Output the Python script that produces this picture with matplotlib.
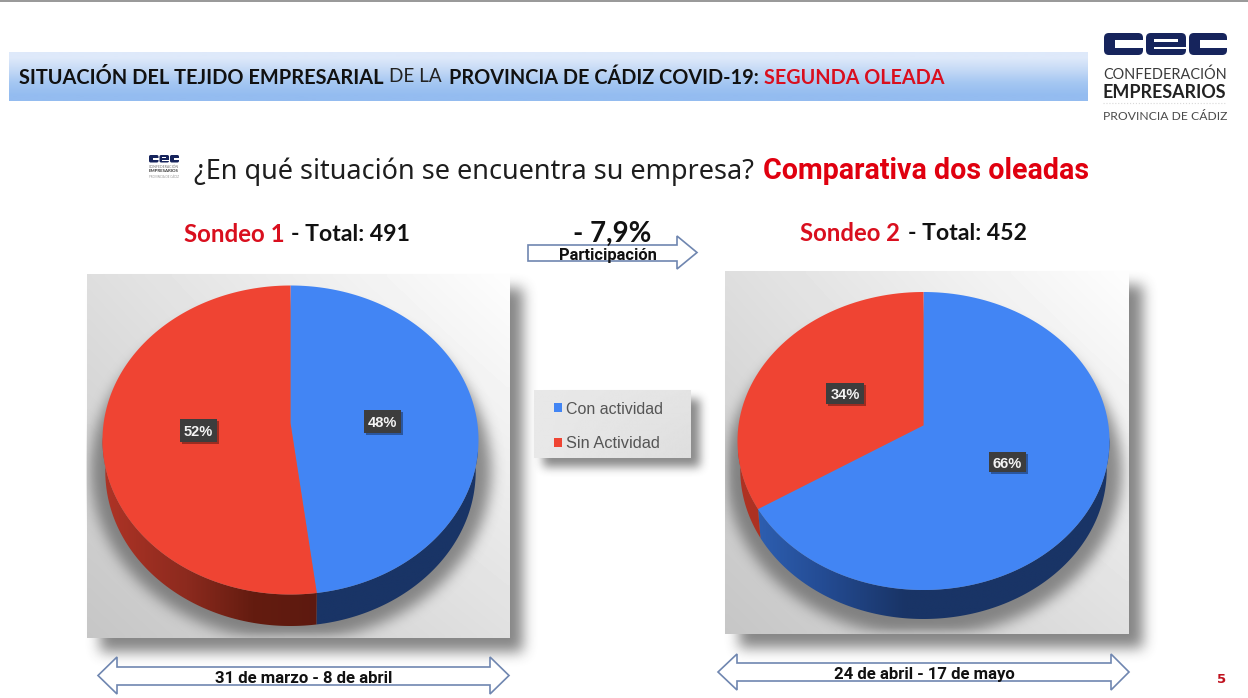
import numpy as np
import matplotlib
matplotlib.use("Agg")
import matplotlib.pyplot as plt
from matplotlib.patches import Rectangle, Polygon, FancyBboxPatch
from matplotlib.path import Path
from matplotlib.transforms import Transform, Affine2D

# ---------- data ----------
categories = ["Con actividad", "Sin Actividad"]
sondeo1_values = [48, 52]
sondeo2_values = [66, 34]
title_runs = ["SITUACIÓN DEL TEJIDO EMPRESARIAL", "DE LA", "PROVINCIA DE CÁDIZ COVID-19:", "SEGUNDA OLEADA"]
question = "¿En qué situación se encuentra su empresa?"
question_red = "Comparativa dos oleadas"
sondeo1_head = ["Sondeo 1", "- Total: 491"]
sondeo2_head = ["Sondeo 2", "- Total: 452"]
change_value = "- 7,9%"
change_label = "Participación"
period1 = "31 de marzo - 8 de abril"
period2 = "24 de abril - 17 de mayo"
page_number = "5"

# ---------- styles ----------
W, H = 1248, 698
BLUE, RED = "#4285F4", "#EF4433"
TXTRED = "#D90F1E"
EDGE = "#6F86B0"
SANS = "Lato"
TAHOMA = "Noto Sans"
TAHOMA_B = "Roboto"
ARIAL = "Liberation Sans"

fig = plt.figure(figsize=(W / 100, H / 100), dpi=100, facecolor="white")
ax = fig.add_axes([0, 0, 1, 1], zorder=0)
ax.set_xlim(0, W); ax.set_ylim(H, 0); ax.axis("off")
top = fig.add_axes([0, 0, 1, 1], zorder=5)
top.set_xlim(0, W); top.set_ylim(H, 0); top.axis("off"); top.patch.set_alpha(0)
renderer = fig.canvas.get_renderer()


def blur(a, r, n=3):
    k = np.ones(2 * r + 1) / (2 * r + 1)
    for _ in range(n):
        a = np.apply_along_axis(lambda m: np.convolve(m, k, mode="same"), 0, a)
        a = np.apply_along_axis(lambda m: np.convolve(m, k, mode="same"), 1, a)
    return a


def box_shadow(x0, y0, x1, y1, strength, r=6, dx=14, dy=14):
    sx0, sx1 = int(x0) - 40, int(x1) + 60
    sy0, sy1 = int(y0) - 40, int(y1) + 60
    a = np.zeros((sy1 - sy0, sx1 - sx0))
    a[int(y0) + dy - sy0:int(y1) + dy - sy0, int(x0) + dx - sx0:int(x1) + dx - sx0] = 1
    a = blur(a, r) * strength
    img = np.zeros(a.shape + (4,))
    img[..., :3] = 60 / 255
    img[..., 3] = a
    ax.imshow(img, extent=(sx0, sx1, sy1, sy0), aspect="auto", zorder=1)


def panel(x0, y0, x1, y1, corners, z=2):
    (tl, tr), (bl, br) = corners
    u = np.linspace(0, 1, 80)
    v = np.linspace(0, 1, 80)[:, None]
    g = (tl * (1 - u) + tr * u) * (1 - v) + (bl * (1 - u) + br * u) * v
    ax.imshow(g / 255, cmap="gray", vmin=0, vmax=1, extent=(x0, x1, y1, y0),
              aspect="auto", zorder=z, interpolation="bilinear")


def fit(target, x0, x1, y, s, color="black", weight="normal", family=SANS, size=None):
    t = target.text(x0, y, s, color=color, fontweight=weight, family=family,
                    fontsize=12, ha="left", va="center_baseline", zorder=8)
    if size is None:
        w = t.get_window_extent(renderer).width
        t.set_fontsize(12 * (x1 - x0) / w)
    else:
        t.set_fontsize(size)
    return t


class Persp(Transform):
    """Homography that keeps the unit circle and moves the centre up, as in a tilted pie."""
    input_dims = output_dims = 2
    is_affine = False
    has_inverse = False

    def __init__(self, a):
        super().__init__()
        self.a = a

    def transform_non_affine(self, v):
        v = np.asarray(v, float)
        d = 1 + self.a * v[:, 1]
        return np.column_stack((v[:, 0] * np.sqrt(1 - self.a ** 2) / d, (v[:, 1] + self.a) / d))

    def transform_path_non_affine(self, path):
        p = path.transformed(Affine2D().scale(1000))
        poly = np.vstack(p.to_polygons(closed_only=True)) / 1000
        return Path(self.transform_non_affine(poly), closed=True)


def pie3d(values, cx, cy, rx, ry, depth, a, wall_stops):
    pax = fig.add_axes([(cx - 1.2 * rx) / W, 1 - (cy + 1.5 * ry) / H, 2.4 * rx / W, 2.7 * ry / H], zorder=3)
    wedges, _ = pax.pie(values, colors=[BLUE, RED], startangle=90, counterclock=False,
                        radius=1, wedgeprops=dict(linewidth=0, zorder=4))
    pr = Persp(a)
    d = depth / ry
    for w, stops in zip(wedges, wall_stops):
        w.set_transform(pr + pax.transData)
        th = np.radians(np.linspace(w.theta1, w.theta2, 300))
        pts = pr.transform_non_affine(np.column_stack((np.cos(th), np.sin(th))))
        pts = pts[pts[:, 1] <= 0.03]
        if len(pts) < 2:
            continue
        low = pts[::-1] * [0.985, 1] - [0, d]
        poly = Polygon(np.vstack((pts, low)), closed=True, transform=pax.transData, fc="none", ec="none")
        pax.add_patch(poly)
        xs = np.linspace(-1, 1, 300)
        pos, cols = zip(*stops)
        cols = np.array(cols) / 255
        grad = np.stack([np.interp(xs, pos, cols[:, i]) for i in range(3)], axis=-1)[None, :, :]
        im = pax.imshow(grad, extent=(-1, 1, -1.5, 0.1), aspect="auto", zorder=2, interpolation="bilinear")
        im.set_clip_path(poly)
    pax.set_aspect("auto")
    pax.set_xlim(-1.2, 1.2)
    pax.set_ylim(-1.5, 1.2)
    pax.axis("off")
    pax.patch.set_alpha(0)
    return pax


def pie_shadow(x0, y0, x1, y1, cx, cy, rx, ry):
    yy, xx = np.mgrid[int(y0):int(y1), int(x0):int(x1)]
    m = (((xx - cx) / (rx + 12)) ** 2 + ((yy - cy - 30) / (ry + 16)) ** 2 <= 1).astype(float)
    a = blur(m, 6) * 0.7
    img = np.zeros(a.shape + (4,))
    img[..., :3] = 95 / 255
    img[..., 3] = a
    ax.imshow(img, extent=(int(x0), int(x1), int(y1), int(y0)), aspect="auto", zorder=3)


def label(cx, cy, w, h, s):
    top.add_patch(Rectangle((cx - w / 2 + 2, cy - h / 2 + 2), w, h, fc="black", alpha=0.35, ec="none", zorder=6))
    top.add_patch(Rectangle((cx - w / 2, cy - h / 2), w, h, fc="#3D3D3D", ec="none", zorder=7))
    top.text(cx, cy, s, color="#F4F4F4", fontweight="bold", family=ARIAL, fontsize=10.5,
             ha="center", va="center_baseline", zorder=8)


def arrow(points, z=6):
    top.add_patch(Polygon(points, closed=True, fc="white", ec=EDGE, lw=1.2, zorder=z))


def logo_c(target, x0, x1, y0, y1, col, kind="c"):
    h = y1 - y0
    w = x1 - x0
    pad = h * 0.22
    target.add_patch(FancyBboxPatch((x0 + pad, y0 + pad), w - 2 * pad, h - 2 * pad,
                                    boxstyle=f"round,pad={pad},rounding_size={pad}", fc=col, ec="none", zorder=7))
    if kind == "c":
        tx = h * 0.5
        ty = h * 0.34
        target.add_patch(Rectangle((x0 + tx, y0 + ty), w - tx + 0.5, h - 2 * ty, fc="white", ec="none", zorder=7.5))
    else:
        tx = h * 0.36
        target.add_patch(Rectangle((x0 + tx, y0 + h * 0.27), w - 2 * tx, h * 0.14, fc="white", ec="none", zorder=7.5))
        target.add_patch(Rectangle((x0 + tx, y0 + h * 0.62), w - tx + 0.5, h * 0.13, fc="white", ec="none", zorder=7.5))


# ---------- page furniture ----------
ax.add_patch(Rectangle((0, 0), W, 2, fc="#9A9A9A", ec="none", zorder=1))

band = np.array([[222, 233, 250], [196, 217, 246], [165, 199, 242], [148, 188, 240]]) / 255
ax.imshow(band[:, None, :], extent=(9, 1088, 101, 52), aspect="auto", zorder=1, interpolation="bilinear")
fit(top, 19, 383, 75.5, title_runs[0], weight="bold", color="#111111")
fit(top, 389, 443, 75.5, title_runs[1], color="#222222", size=13.6)
fit(top, 449, 758, 75.5, title_runs[2], weight="bold", color="#111111")
fit(top, 764, 944, 75.5, title_runs[3], weight="bold", color=TXTRED)

# logo
NAVY = "#16245C"
logo_c(top, 1104, 1143, 33, 55, NAVY, "c")
logo_c(top, 1146, 1186, 33, 55, NAVY, "e")
logo_c(top, 1189, 1227, 33, 55, NAVY, "c")
fit(top, 1103, 1226, 73.5, "CONFEDERACIÓN", color="#3A3A3A")
fit(top, 1103, 1226, 91, "EMPRESARIOS", color="#222222", weight="bold")
fit(top, 1103, 1226, 115.5, "PROVINCIA DE CÁDIZ", color="#4A4A4A")
top.plot([1103, 1226], [103, 103], color="#D8D8D8", lw=0.8, ls=":", zorder=7)

# small logo
logo_c(top, 149, 158.5, 155, 162.5, NAVY, "c")
logo_c(top, 159.5, 169, 155, 162.5, NAVY, "e")
logo_c(top, 170, 179, 155, 162.5, NAVY, "c")
fit(top, 149, 179, 166, "CONFEDERACIÓN", color="#777777")
fit(top, 149, 179, 170.5, "EMPRESARIOS", color="#333333", weight="bold")
fit(top, 149, 179, 176, "PROVINCIA DE CÁDIZ", color="#999999")

fit(top, 194, 754, 168, question, family=TAHOMA, color="#1E1E1E")
fit(top, 763, 1087, 168, question_red, family=TAHOMA_B, weight="bold", color="#E0000F")

fit(top, 184, 284, 232.5, sondeo1_head[0], weight="bold", color=TXTRED)
fit(top, 291, 409, 232.5, sondeo1_head[1], weight="bold", color="#111111")
fit(top, 800.5, 900, 231.5, sondeo2_head[0], weight="bold", color=TXTRED)
fit(top, 908, 1026, 231.5, sondeo2_head[1], weight="bold", color="#111111")

# ---------- panels ----------
P1 = (86.5, 274, 509, 638)
P2 = (725, 271, 1129, 634)
C1 = (290.5, 440, 188, 154.5, 31.5, 0.11)
C2 = (923.5, 441, 186, 149, 29, 0.105)
box_shadow(*P1, 0.62)
box_shadow(*P2, 0.62)
grad1 = ((222, 253), (198, 224))
panel(*P1, grad1)
panel(*P2, grad1)
pie_shadow(*P1, *C1[:4])
pie_shadow(*P2, *C2[:4])

NAVYW = (25, 52, 102)
wall1 = [
    [(-1, (25, 52, 102)), (1, NAVYW)],
    [(-1, (175, 52, 38)), (-0.55, (140, 42, 30)), (-0.2, (100, 28, 16)), (0.2, (92, 25, 15)), (1, (92, 25, 15))],
]
wall2 = [
    [(-1, (48, 100, 185)), (-0.55, (36, 76, 148)), (-0.1, NAVYW), (1, NAVYW)],
    [(-1, (175, 50, 35)), (1, (150, 40, 30))],
]
pie3d(sondeo1_values, *C1, wall1)
pie3d(sondeo2_values, *C2, wall2)

label(382, 421.5, 37, 22.5, f"{sondeo1_values[0]}%")
label(198.5, 430.5, 37, 22.5, f"{sondeo1_values[1]}%")
label(1007.5, 462, 37, 20.5, f"{sondeo2_values[0]}%")
label(845, 393.5, 38, 21, f"{sondeo2_values[1]}%")

# ---------- legend ----------
box_shadow(534, 390, 691, 458, 0.6, r=4, dx=9, dy=9)
panel(534, 390, 691, 458, ((232, 228), (232, 222)))
for yc, c, name, x1 in zip((407.5, 442.5), (BLUE, RED), categories, (664, 660)):
    ax.add_patch(Rectangle((554, yc - 4.5), 8, 9, fc=c, ec="none", zorder=6))
    fit(top, 566, x1, yc, name, family=ARIAL, color="#555555")

# ---------- arrows ----------
arrow([(528, 245), (677, 245), (677, 236), (697, 252.5), (677, 269), (677, 261), (528, 261)])
fit(top, 573, 651, 231.5, change_value, weight="bold", color="#111111")
fit(top, 559, 657, 254, change_label, family=TAHOMA_B, weight="bold", color="#111111")

arrow([(98, 675.5), (117, 657), (117, 667), (490, 667), (490, 657), (509, 675.5),
       (490, 694), (490, 685), (117, 685), (117, 694)])
fit(top, 215, 392, 677, period1, family=TAHOMA_B, weight="bold", color="#111111")

arrow([(718, 672), (737, 654), (737, 663), (1111, 663), (1111, 654), (1129, 672),
       (1111, 690), (1111, 681), (737, 681), (737, 690)])
fit(top, 833.5, 1014, 673, period2, family=TAHOMA_B, weight="bold", color="#111111")

top.text(1222, 678, page_number, color="#C0121F", fontweight="bold", family="DejaVu Sans", fontsize=9.5,
         ha="center", va="center_baseline", zorder=8)

ax.set_xlim(0, W); ax.set_ylim(H, 0)
top.set_xlim(0, W); top.set_ylim(H, 0)
fig.savefig("out.png", dpi=100, facecolor="white")
